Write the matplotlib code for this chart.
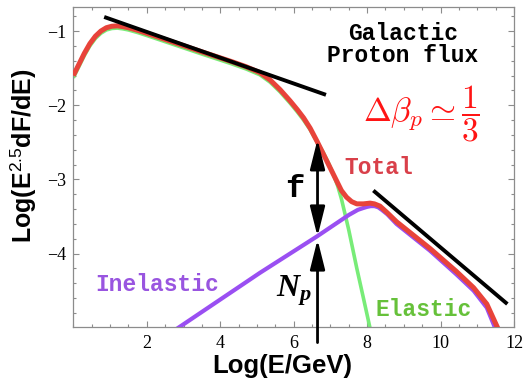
import matplotlib
matplotlib.use("Agg")
import matplotlib.pyplot as plt
from matplotlib.ticker import MultipleLocator

# ---- data ----
x_elastic = [0, 0.15, 0.3, 0.45, 0.6, 0.75, 0.9, 1.05, 1.2, 1.35, 1.5, 1.75, 2.0, 2.72,
             3.5, 4.3, 4.7, 5.08, 5.36, 5.63, 5.9, 6.1, 6.27, 6.45, 6.63, 6.8, 6.95,
             7.08, 7.2, 7.3, 7.5, 7.72, 7.9, 8.1]
y_elastic = [-1.63, -1.48, -1.33, -1.20, -1.10, -1.03, -0.985, -0.965, -0.96, -0.97,
             -0.985, -1.02, -1.06, -1.18, -1.31, -1.44, -1.51, -1.59, -1.69, -1.82,
             -1.97, -2.09, -2.20, -2.33, -2.49, -2.63, -2.78, -2.93, -3.09, -3.26,
             -3.68, -4.20, -4.60, -5.05]

x_inelastic = [2.8, 5.08, 6.63, 7.5, 7.75, 7.9, 8.0, 8.1, 8.2, 8.3, 8.4, 8.55, 8.8,
               9.71, 10.43, 10.9, 11.26, 11.5]
y_inelastic = [-5.02, -4.26, -3.77, -3.48, -3.41, -3.385, -3.37, -3.36, -3.36, -3.375,
               -3.41, -3.47, -3.60, -3.96, -4.28, -4.50, -4.73, -5.02]

x_total = [0, 0.15, 0.3, 0.45, 0.6, 0.75, 0.9, 1.05, 1.2, 1.35, 1.5, 1.75, 2.0, 2.72,
           3.5, 4.3, 4.7, 5.08, 5.36, 5.63, 5.9, 6.1, 6.27, 6.45, 6.63, 6.9, 7.17,
           7.3, 7.44, 7.58, 7.72, 7.9, 8.08, 8.2, 8.35, 8.55, 8.8, 9.71, 10.43, 10.9,
           11.26, 11.6]
y_total = [-1.60, -1.45, -1.30, -1.17, -1.07, -1.00, -0.955, -0.935, -0.93, -0.94,
           -0.955, -0.99, -1.03, -1.15, -1.28, -1.41, -1.48, -1.56, -1.66, -1.79,
           -1.94, -2.06, -2.17, -2.31, -2.48, -2.75, -3.02, -3.15, -3.24, -3.30,
           -3.33, -3.33, -3.32, -3.33, -3.36, -3.45, -3.57, -3.93, -4.24, -4.46,
           -4.68, -5.05]

fit_low_x = [0.84, 6.88]
fit_low_y = [-0.81, -1.86]
fit_high_x = [8.17, 11.82]
fit_high_y = [-3.15, -4.68]

arrow_x = 6.65
arrow_top_y = -2.46
arrow_mid_y = -3.77

x_ticks = [2, 4, 6, 8, 10, 12]
y_ticks = [-4, -3, -2, -1]

# ---- style ----
plt.rcParams['mathtext.fontset'] = 'custom'
plt.rcParams['mathtext.rm'] = 'Liberation Sans'
plt.rcParams['mathtext.it'] = 'Liberation Serif:italic:bold'
plt.rcParams['mathtext.bf'] = 'Liberation Sans:bold'

fig = plt.figure(figsize=(5.25, 3.81), dpi=100)
ax = fig.add_axes([0.1397, 0.1417, 0.9790 - 0.1397, 0.9808 - 0.1417])

ax.plot(x_elastic, y_elastic, color='#78ec78', lw=2.6, solid_capstyle='butt',
        solid_joinstyle='round', zorder=2)
ax.plot(x_inelastic, y_inelastic, color='#9a4ff2', lw=3.0, solid_capstyle='butt',
        solid_joinstyle='round', zorder=3)
ax.plot(x_total, y_total, color='#e8433a', lw=3.6, solid_capstyle='butt',
        solid_joinstyle='round', zorder=4)
ax.plot(fit_low_x, fit_low_y, color='black', lw=2.8, solid_capstyle='butt', zorder=5)
ax.plot(fit_high_x, fit_high_y, color='black', lw=2.8, solid_capstyle='butt', zorder=5)

# arrows
ax.annotate('', xy=(arrow_x, arrow_top_y), xytext=(arrow_x, arrow_mid_y),
            arrowprops=dict(arrowstyle='<|-|>,head_length=1.8,head_width=0.45',
                            color='black', lw=2.0, shrinkA=0, shrinkB=0,
                            mutation_scale=10), zorder=6)
ax.annotate('', xy=(arrow_x, arrow_mid_y - 0.04), xytext=(arrow_x, -5.2),
            arrowprops=dict(arrowstyle='-|>,head_length=1.8,head_width=0.45',
                            color='black', lw=2.0, shrinkA=0, shrinkB=0,
                            mutation_scale=10), zorder=6, annotation_clip=False)

mono = 'Liberation Mono'
ax.text(8.98, -1.18, 'Galactic\nProton flux', family=mono, weight='bold', fontsize=16.5,
        ha='center', va='center', linespacing=0.95, color='black')
ax.text(8.33, -2.84, 'Total', family=mono, weight='bold', fontsize=16.5,
        ha='center', va='center', color='#d9404a')
ax.text(2.27, -4.42, 'Inelastic', family=mono, weight='bold', fontsize=16.5,
        ha='center', va='center', color='#9955e0')
ax.text(9.53, -4.75, 'Elastic', family=mono, weight='bold', fontsize=16.5,
        ha='center', va='center', color='#66c13a')
ax.text(6.04, -3.13, 'f', family=mono, weight='bold', fontsize=23,
        ha='center', va='center', color='black')
ax.text(6.02, -4.5, r'$N_p$', math_fontfamily='custom', fontsize=23,
        ha='center', va='center', color='black')
ax.text(9.49, -2.12, r'$\Delta\beta_p \simeq \dfrac{1}{3}$', math_fontfamily='cm',
        fontsize=24, ha='center', va='center', color='#ff1414')

ax.set_xlim(0, 12)
ax.set_ylim(-4.99, -0.68)
ax.set_xticks(x_ticks)
ax.set_yticks(y_ticks)
ax.set_xticklabels([str(v) for v in x_ticks])
ax.set_yticklabels(['\u2212' + str(-v) for v in y_ticks])
ax.xaxis.set_minor_locator(MultipleLocator(0.5))
ax.yaxis.set_minor_locator(MultipleLocator(0.2))
ax.tick_params(which='both', direction='in', top=True, right=True, color='#8c8c8c', width=0.8)
ax.tick_params(which='major', length=4)
ax.tick_params(which='minor', length=2.2)
ax.tick_params(axis='x', pad=5.5)
ax.tick_params(axis='y', pad=5)
for lab in ax.get_xticklabels() + ax.get_yticklabels():
    lab.set_family('Liberation Serif')
    lab.set_fontsize(13)
for s in ax.spines.values():
    s.set_color('#8c8c8c')
    s.set_linewidth(0.9)

ax.set_xlabel('Log(E/GeV)', family='Liberation Sans', weight='bold', fontsize=18.5)
ax.xaxis.set_label_coords(0.475, -0.085)
ax.set_ylabel(r'Log(E$^{\mathrm{2.5}}$dF/dE)', family='Liberation Sans', weight='bold',
              fontsize=18, math_fontfamily='custom')
ax.yaxis.set_label_coords(-0.08, 0.535)

fig.savefig('out.png', dpi=100)
